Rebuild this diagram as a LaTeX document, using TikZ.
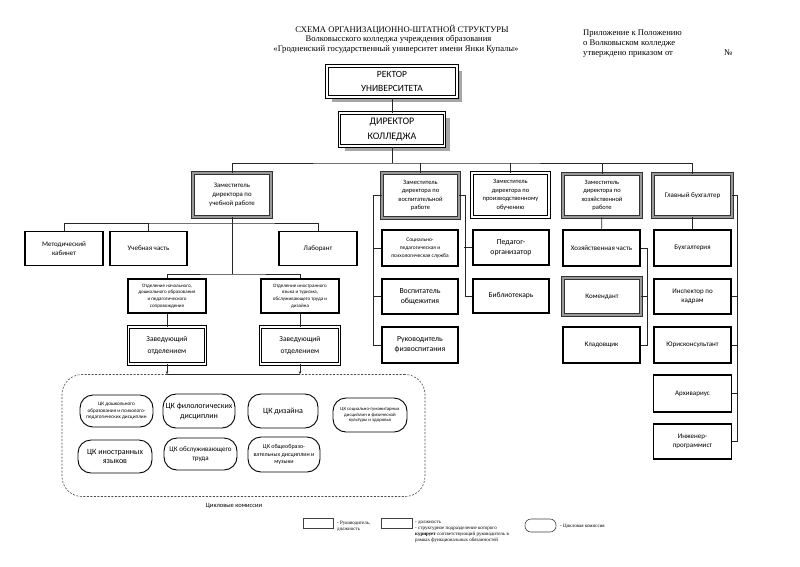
\documentclass[tikz,border=0pt]{standalone}
\usepackage{fontspec}
\setmainfont{Liberation Serif}
\newfontfamily\boxfont{Carlito}
\usetikzlibrary{arrows.meta,shadows,positioning}

\tikzset{
  fs/.style 2 args={font=\boxfont\fontsize{#1}{#2}\selectfont},
  sz/.style 2 args={minimum width=#1pt, minimum height=#2pt},
  box/.style={draw, line width=1.1pt, align=center, inner sep=1pt, fs={7}{9}},
  dbox/.style={box, line width=0.8pt, double, double distance=1.5pt},
  gbox/.style={box, draw=black!80, line width=0.9pt, double=black!40, double distance=1.6pt},
  topbox/.style={dbox, line width=1pt, double distance=1.5pt, fill=white,
    drop shadow={shadow xshift=5pt, shadow yshift=-5pt, fill=black!35, opacity=1}},
  ckbox/.style={draw, line width=0.9pt, rounded corners=13pt, align=center, inner sep=1pt},
  link/.style={line width=0.6pt, black!85},
  note/.style={font=\fontsize{8.6}{10}\selectfont, inner sep=0pt},
  legend/.style={font=\fontsize{5}{6}\selectfont, align=left, inner sep=0pt},
}

\begin{document}
\begin{tikzpicture}[x=1pt,y=-1pt]
\useasboundingbox (0,0) rectangle (800,566);

% header
\node[note, anchor=base] (title1) at (402,32) {СХЕМА ОРГАНИЗАЦИОННО-ШТАТНОЙ СТРУКТУРЫ};
\node[note, anchor=base] (title2) at (398.5,41.5) {Волковысского колледжа учреждения образования};
\node[note, anchor=base] (title3) at (396,51) {«Гродненский государственный университет имени Янки Купалы»};
\node[note, anchor=base west] (app1) at (583,35) {Приложение к Положению};
\node[note, anchor=base west] (app2) at (583,45) {о Волковыском колледже};
\node[note, anchor=base west] (app3) at (583,55) {утверждено приказом от};
\node[note, anchor=base west] (app4) at (724,55) {№};

% top
\node[topbox, sz={130}{31}, fs={9.5}{13.5}] (rector) at (392,81.5) {РЕКТОР\\УНИВЕРСИТЕТА};
\node[topbox, sz={105}{33}, fs={10}{15}] (director) at (392,129.5) {ДИРЕКТОР\\КОЛЛЕДЖА};
\draw[link] (rector) -- (director);

% deputies
\node[gbox, sz={78}{44}, fs={6.8}{9}] (zu) at (232,195) {Заместитель\\директора по\\учебной работе};
\node[gbox, sz={77}{45}, fs={6.5}{8.4}] (zv) at (420.5,195.5) {Заместитель\\директора по\\воспитательной\\работе};
\node[dbox, sz={77}{44}, fs={6.5}{8.4}] (zp) at (510.5,195) {Заместитель\\директора по\\производственному\\обучению};
\node[gbox, sz={78}{43}, fs={6.5}{8.4}] (zh) at (602,195.5) {Заместитель\\директора по\\хозяйственной\\работе};
\node[gbox, sz={79}{43}, fs={7}{9}] (gb) at (692.5,195.5) {Главный бухгалтер};

\coordinate (bus) at (392,163);
\draw[link] (director.south) -- (bus);
\draw[link] (zu.north) |- (bus) -| (gb.north);
\draw[link] (zv.north) -- (zv.north |- bus);
\draw[link] (zp.north) -- (zp.north |- bus);
\draw[link] (zh.north) -- (zh.north |- bus);

% study branch
\node[box, sz={78}{34}] (mk) at (64,248.5) {Методический\\кабинет};
\node[box, sz={77}{34}] (uch) at (148.5,248.5) {Учебная часть};
\node[box, sz={78}{34}] (lab) at (318,248.5) {Лаборант};
\node[box, sz={78}{34}, fs={5}{6.8}] (ot1) at (167,296) {Отделение начального,\\дошкольного образования\\и педагогического\\сопровождения};
\node[box, sz={78}{34}, fs={5}{6.8}] (ot2) at (300,296) {Отделение иностранного\\языка и туризма,\\обслуживающего труда и\\дизайна};
\node[dbox, sz={77}{37}, fs={7.5}{11.5}] (zav1) at (167,345.5) {Заведующий\\отделением};
\node[dbox, sz={79}{37}, fs={7.5}{11.5}] (zav2) at (300,345.5) {Заведующий\\отделением};

\coordinate (zub) at (232,223);
\coordinate (otb) at (232,274);
\draw[link] (zu.south) -- (otb);
\draw[link] (mk.north) |- (zub) -| (lab.north);
\draw[link] (uch.north) -- (uch.north |- zub);
\draw[link] (ot1.north) |- (otb) -| (ot2.north);
\draw[link] (ot1) -- (zav1);
\draw[link] (ot2) -- (zav2);

% cycle commissions
\node[draw=black!70, dashed, dash pattern=on 2pt off 1.5pt, line width=0.6pt, rounded corners=20pt, sz={363}{122}] (ckframe) at (243.5,435.5) {};
\node[ckbox, sz={73}{32}, fs={5.2}{6.3}] (ck1) at (116.5,411) {ЦК дошкольного\\образования и психолого-\\педагогических дисциплин};
\node[ckbox, sz={72}{34}, fs={8}{10}] (ck2) at (199,411) {ЦК филологических\\дисциплин};
\node[ckbox, sz={70}{34}, fs={8}{10}] (ck3) at (283,411) {ЦК дизайна};
\node[ckbox, sz={74}{34}, fs={4.8}{5.8}] (ck4) at (370,415) {ЦК социально-гуманитарных\\дисциплин и физической\\культуры и здоровья};
\node[ckbox, sz={74}{33}, fs={8}{9.5}] (ck5) at (115,456.5) {ЦК иностранных\\языков};
\node[ckbox, sz={73}{32}, fs={7}{8.5}] (ck6) at (200.5,454) {ЦК обслуживающего\\труда};
\node[ckbox, sz={72}{35}, fs={6}{7.5}] (ck7) at (284,454.5) {ЦК общеобразо-\\вательных дисциплин и\\музыки};
\node[fs={6.5}{8}] (cklabel) at (234,506) {Цикловые комиссии};

\draw[link, -{Stealth[length=3pt,width=2.5pt]}] (zav1.south) -- (zav1.south |- ckframe.north);
\draw[link, -{Stealth[length=3pt,width=2.5pt]}] (zav2.south) -- (zav2.south |- ckframe.north);
\draw[link] (zav1.south |- ckframe.north) -- (zav2.south |- ckframe.north);

% educational work
\node[box, sz={76}{36}, fs={5.5}{8}] (sp) at (420,248) {Социально-\\педагогическая и\\психологическая служба};
\node[box, sz={76}{35}, fs={7.8}{10}] (vo) at (420,296.5) {Воспитатель\\общежития};
\node[box, sz={76}{36}, fs={7.8}{10}] (fiz) at (420,345) {Руководитель\\физвоспитания};
\node[box, sz={76}{35}, fs={7.8}{10}] (pedorg) at (511,247.5) {Педагог-\\организатор};
\node[box, sz={76}{34}, fs={7.5}{10}] (bib) at (511,296) {Библиотекарь};

\draw[link] (zv.west) -- ++(-8,0) |- (fiz.west);
\draw[link] (sp.west) -- ++(-8,0);
\draw[link] (vo.west) -- ++(-8,0);
\draw[link] (zv.east) -- ++(6,0) |- (bib.west);
\draw[link] (pedorg.west) -- ++(-8,0);

% household and accounting
\node[box, sz={77}{36}] (hc) at (601.5,248) {Хозяйственная часть};
\node[gbox, sz={78}{37}] (kom) at (602,296.5) {Комендант};
\node[box, sz={77}{36}] (klad) at (601.5,345) {Кладовщик};
\node[box, sz={77}{36}] (buh) at (692.5,248) {Бухгалтерия};
\node[box, sz={77}{35}] (insp) at (692.5,296.5) {Инспектор по\\кадрам};
\node[box, sz={77}{36}] (jur) at (692.5,345) {Юрисконсультант};
\node[box, sz={78}{37}] (arh) at (692.5,393.5) {Архивариус};
\node[box, sz={78}{35}] (ing) at (692.5,441.5) {Инженер-\\программист};

\draw[link] (zh) -- (hc);
\draw[link] (hc.east) -- ++(7,0) |- (klad.east);
\draw[link] (kom.east) -- ++(6,0);
\draw[link] (gb) -- (buh);
\draw[link] (gb.east) -- ++(5,0) |- (ing.east);
\draw[link] (insp.east) -- ++(6,0);
\draw[link] (jur.east) -- ++(6,0);
\draw[link] (arh.east) -- ++(5.5,0);

% legend
\node[draw=black!75, line width=0.8pt, sz={30}{10}] (lg1) at (318,523) {};
\node[legend, anchor=north west] (lt1) at (337,521) {- Руководитель,\\должность};
\node[draw=black!75, line width=0.5pt, sz={31}{10}] (lg2) at (396.5,523) {};
\node[legend, anchor=north west] (lt2) at (415,521) {- должность\\- структурное подразделение которого\\\textbf{курирует} соответствующий руководитель в\\рамках функциональных обязанностей};
\node[draw=black!75, line width=0.6pt, rounded corners=6pt, sz={31}{13}] (lg3) at (540.5,525.5) {};
\node[legend, anchor=west] (lt3) at (560,526) {- Цикловая комиссия};
\end{tikzpicture}
\end{document}
